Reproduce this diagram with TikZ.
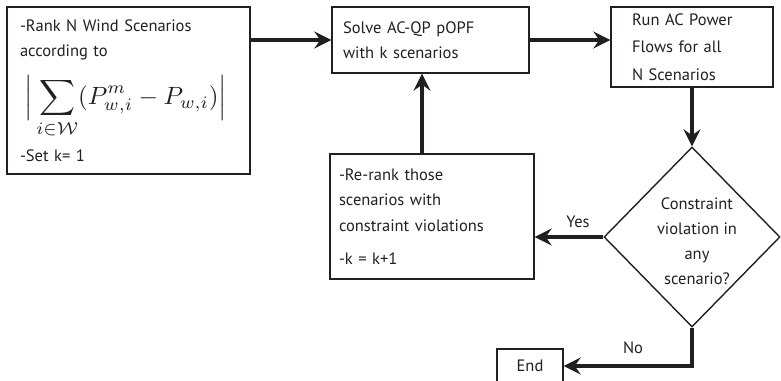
\documentclass[tikz,border=0pt]{standalone}
\usepackage{fontspec}
\usepackage{graphicx}
\setmainfont{PT Sans}
\usetikzlibrary{arrows.meta,shapes.geometric,calc}
\definecolor{ink}{HTML}{231F20}
\tikzset{
  procbox/.style={draw=ink, line width=1.4pt, align=left, inner ysep=0pt,
    font=\fontsize{16.5}{25.5}\selectfont, text=ink},
  flowarrow/.style={draw=ink, line width=3.2pt,
    -{Stealth[length=17pt,width=17pt,inset=6pt]}},
  lbl/.style={font=\fontsize{16.5}{20}\selectfont, text=ink, inner sep=0pt}
}
% absolute-value bars a little taller than the summation sign
\newcommand{\sumbar}{\left|\rule[-5.5pt]{0pt}{16pt}\right.}
% ranking metric, set at 10pt and scaled to the box width
\newcommand{\rankmetric}{\smash{\resizebox{205pt}{!}{\fontsize{10}{12}\selectfont
  $\displaystyle\mathopen{\sumbar}\sum_{i\in\mathcal{W}}(P^m_{w,i}-P_{w,i})\mathclose{\sumbar}$}}}
\begin{document}
\begin{tikzpicture}[x=1pt,y=-1pt]
  \useasboundingbox (0,0) rectangle (781,380);

  % ranking step
  \node[procbox, minimum width=243pt, minimum height=167pt,
        text width=217pt, inner xsep=13pt] (rank) at (128.5,90.5)
    {-Rank N Wind Scenarios\\
     according to\\[22pt]
     \hspace*{5pt}\rankmetric\\[31.5pt]
     -Set k= 1};

  % optimisation step
  \node[procbox, minimum width=197pt, minimum height=66pt,
        text width=175pt, inner xsep=11pt] (solve) at (430.5,40)
    {Solve AC-QP pOPF\\with k scenarios};

  % power flow step
  \node[procbox, minimum width=162pt, minimum height=80pt,
        text width=120pt, inner xsep=21pt] (flows) at (692,47)
    {Run AC Power\\[2pt]Flows for all\\[2pt]N Scenarios};

  % re-ranking step
  \node[procbox, minimum width=204pt, minimum height=125pt,
        text width=186pt, inner xsep=9pt] (rerank) at (432,216.5)
    {-Re-rank those\\scenarios with\\constraint violations\\[8pt]-k = k+1};

  % decision
  \node[draw=ink, line width=1.4pt, shape=diamond, minimum width=176pt,
        minimum height=180pt, inner sep=0pt] (check) at (692,237) {};
  \node[align=center, text=ink, font=\fontsize{16.5}{25}\selectfont,
        inner sep=0pt] (checktext) at (697,241)
    {Constraint\\violation in\\any\\scenario?};

  % terminal
  \node[procbox, align=center, minimum width=66pt, minimum height=34pt,
        inner xsep=0pt] (finish) at (530,366) {End};

  % connectors
  \draw[flowarrow] (rank.east |- solve.west) -- (solve.west);
  \draw[flowarrow] (solve.east) -- (solve.east -| flows.west);
  \draw[flowarrow] (flows.south) -- (check.north);
  \draw[flowarrow] (check.west) -- (check.west -| rerank.east);
  \coordinate (up) at ($(rerank.north)+(-10,0)$);
  \draw[flowarrow] (up) -- (up |- solve.south);
  \draw[flowarrow] (check.south) |- (finish.east);

  \node[lbl] (yes) at (578,222) {Yes};
  \node[lbl] (no) at (633,348) {No};
\end{tikzpicture}
\end{document}
